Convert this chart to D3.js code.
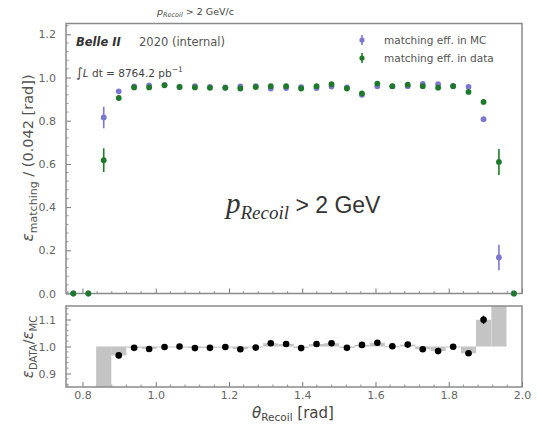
<!DOCTYPE html>
<html><head><meta charset="utf-8">
<script src="https://cdn.jsdelivr.net/npm/d3@7"></script>
<style>
html,body{margin:0;padding:0;background:#fff;}
svg text{font-family:"DejaVu Sans",sans-serif;}
</style></head>
<body>
<svg id="c" width="537" height="426"></svg>
<script>
// ---- data ----
const binCenters = [0.775,0.816,0.858,0.899,0.941,0.982,1.024,1.065,1.107,1.148,1.190,1.231,1.273,1.314,1.356,1.397,1.439,1.480,1.522,1.563,1.605,1.646,1.688,1.729,1.771,1.812,1.854,1.895,1.937,1.978];
const binHalfWidth = 0.0207;
const effData = [0,0,0.617,0.905,0.954,0.954,0.964,0.956,0.954,0.952,0.952,0.949,0.956,0.960,0.960,0.949,0.960,0.969,0.949,0.926,0.972,0.960,0.967,0.960,0.953,0.960,0.933,0.887,0.609,0];
const errData = [0,0,0.055,0.010,0.005,0.005,0.005,0.005,0.005,0.005,0.005,0.005,0.005,0.005,0.005,0.005,0.005,0.005,0.005,0.005,0.005,0.005,0.005,0.005,0.005,0.005,0.006,0.008,0.060,0];
const effMC = [0,0,0.815,0.936,0.959,0.963,0.966,0.956,0.960,0.957,0.954,0.959,0.960,0.949,0.951,0.955,0.951,0.958,0.954,0.920,0.959,0.959,0.960,0.970,0.969,0.961,0.957,0.807,0.167,0];
const errMC = [0,0,0.050,0.010,0.004,0.004,0.004,0.004,0.004,0.004,0.004,0.004,0.004,0.004,0.004,0.004,0.004,0.004,0.004,0.004,0.004,0.004,0.004,0.004,0.004,0.004,0.010,0.006,0.059,0];
const ratio = [null,null,0.757,0.967,0.995,0.991,0.998,1.000,0.994,0.995,0.998,0.990,0.996,1.012,1.009,0.994,1.009,1.012,0.995,1.006,1.014,1.001,1.007,0.990,0.983,0.999,0.975,1.099,3.600,null];
const errRatio = [0,0,0.08,0.010,0.005,0.005,0.005,0.005,0.005,0.005,0.005,0.005,0.005,0.005,0.005,0.005,0.005,0.005,0.005,0.005,0.005,0.005,0.005,0.005,0.005,0.005,0.008,0.015,1.0,0];
const xTicks = [0.8,1.0,1.2,1.4,1.6,1.8,2.0];
const yTicksTop = [0.0,0.2,0.4,0.6,0.8,1.0,1.2];
const yTicksBot = [0.9,1.0,1.1];
const legendLabels = ["matching eff. in MC","matching eff. in data"];

// ---- layout ----
const svg = d3.select("#c");
const L = 66, R = 522;
const topP = {t:23.5, b:293.5};
const botP = {t:306, b:387};
const spine = "#8a8a8a", tickCol = "#777", labCol = "#666";
const cMC = "#7d78cf", cData = "#1e7a2a";

const x = d3.scaleLinear().domain([0.755, 2.0]).range([L, R]);
const yT = d3.scaleLinear().domain([0, 1.25]).range([topP.b, topP.t]);
const yB = d3.scaleLinear().domain([0.85, 1.15]).range([botP.b, botP.t]);

const defs = svg.append("defs");
defs.append("clipPath").attr("id","clipB").append("rect")
  .attr("x",L).attr("y",botP.t).attr("width",R-L).attr("height",botP.b-botP.t);
defs.append("clipPath").attr("id","clipT").append("rect")
  .attr("x",L).attr("y",topP.t-5).attr("width",R-L).attr("height",topP.b-topP.t+10);

function styleAxis(g){
  g.selectAll(".domain").remove();
  g.selectAll(".tick line").attr("stroke",tickCol).attr("stroke-width",1);
  g.selectAll(".tick text").attr("fill",labCol).attr("font-size","11px").attr("font-family","DejaVu Sans");
}
function minorTicks(g, scale, vals, orient, len){
  vals.forEach(v=>{
    if(orient==="bottom"){
      g.append("line").attr("x1",scale(v)).attr("x2",scale(v)).attr("y1",0).attr("y2",-len)
        .attr("stroke",tickCol).attr("stroke-width",0.8);
    } else {
      g.append("line").attr("y1",scale(v)).attr("y2",scale(v)).attr("x1",0).attr("x2",len)
        .attr("stroke",tickCol).attr("stroke-width",0.8);
    }
  });
}
const xMinor = d3.range(0.76, 2.0, 0.04).filter(v=>!xTicks.some(t=>Math.abs(t-v)<1e-6));

// ---- top panel axes ----
const gxT = svg.append("g").attr("transform",`translate(0,${topP.b})`)
  .call(d3.axisBottom(x).tickValues(xTicks).tickSize(-5).tickFormat(""));
styleAxis(gxT); minorTicks(gxT, x, xMinor, "bottom", 2.5);
const gyT = svg.append("g").attr("transform",`translate(${L},0)`)
  .call(d3.axisLeft(yT).tickValues(yTicksTop).tickSize(-5).tickPadding(10).tickFormat(d3.format(".1f")));
styleAxis(gyT);
minorTicks(gyT, yT, d3.range(0.04,1.25,0.04).filter(v=>Math.abs(v/0.2-Math.round(v/0.2))>1e-3), "left", 2.5);

svg.append("rect").attr("x",L).attr("y",topP.t).attr("width",R-L).attr("height",topP.b-topP.t)
  .attr("fill","none").attr("stroke",spine).attr("stroke-width",1.5);

// ---- top panel data ----
const gT = svg.append("g").attr("clip-path","url(#clipT)");
function errPoints(g, vals, errs, color, r){
  binCenters.forEach((c,i)=>{
    const v = vals[i], e = errs[i];
    if(e>0.006){
      g.append("line").attr("x1",x(c)).attr("x2",x(c)).attr("y1",yT(v-e)).attr("y2",yT(v+e))
        .attr("stroke",color).attr("stroke-width",1.6);
    }
    g.append("circle").attr("cx",x(c)).attr("cy",yT(v)).attr("r",r).attr("fill",color);
  });
}
errPoints(gT, effMC, errMC, cMC, 2.9);
errPoints(gT, effData, errData, cData, 2.9);

// ---- legend ----
const legY = [40, 58];
[cMC, cData].forEach((col,i)=>{
  svg.append("line").attr("x1",362).attr("x2",362).attr("y1",legY[i]-5).attr("y2",legY[i]+5)
    .attr("stroke",col).attr("stroke-width",1.6);
  svg.append("circle").attr("cx",362).attr("cy",legY[i]).attr("r",2.6).attr("fill",col);
  svg.append("text").attr("x",384).attr("y",legY[i]+4).attr("font-size","10.5px")
    .attr("fill","#555").text(legendLabels[i]);
});

// ---- annotations ----
svg.append("text").attr("x",76).attr("y",46).attr("font-size","11.5px").attr("font-weight","bold")
  .attr("font-style","italic").attr("fill","#333").text("Belle II");
svg.append("text").attr("x",139).attr("y",46).attr("font-size","11.5px").attr("fill","#555").text("2020 (internal)");
const lum = svg.append("text").attr("x",76).attr("y",77).attr("font-size","10.5px").attr("fill","#444");
lum.append("tspan").attr("font-size","13px").text("∫");
lum.append("tspan").attr("font-style","italic").text("L");
lum.append("tspan").text(" dt = 8764.2 pb");
lum.append("tspan").attr("dy",-5).attr("font-size","7.5px").text("−1");

// title
const tt = svg.append("text").attr("x",157).attr("y",15).attr("font-size","9.5px").attr("fill","#444");
tt.append("tspan").attr("font-style","italic").text("p");
tt.append("tspan").attr("dy",2).attr("font-size","6.5px").attr("font-style","italic").text("Recoil");
tt.append("tspan").attr("dy",-2).text(" > 2 GeV/c");

// big annotation
const big = svg.append("text").attr("x",226).attr("y",213).attr("fill","#333");
big.append("tspan").attr("font-family","Liberation Serif").attr("font-style","italic").attr("font-size","29px").text("p");
big.append("tspan").attr("font-family","Liberation Serif").attr("font-style","italic").attr("font-size","19px").attr("dy",6).text("Recoil");
big.append("tspan").attr("font-family","Liberation Sans").attr("font-size","23px").attr("dy",-6).text(" > 2 GeV");

// y label top
const yl = svg.append("text").attr("transform","translate(33,158) rotate(-90)")
  .attr("text-anchor","middle").attr("font-size","14.5px").attr("fill","#555");
yl.append("tspan").attr("font-style","italic").attr("font-size","15.5px").text("ε");
yl.append("tspan").attr("dy",4).attr("font-size","11px").text("matching");
yl.append("tspan").attr("dy",-4).text(" / (0.042 [rad])");

// ---- bottom panel ----
const gxB = svg.append("g").attr("transform",`translate(0,${botP.b})`)
  .call(d3.axisBottom(x).tickValues(xTicks).tickSize(-5).tickPadding(4).tickFormat(d3.format(".1f")));
styleAxis(gxB); minorTicks(gxB, x, xMinor, "bottom", 2.5);
const gyB = svg.append("g").attr("transform",`translate(${L},0)`)
  .call(d3.axisLeft(yB).tickValues(yTicksBot).tickSize(-5).tickPadding(10).tickFormat(d3.format(".1f")));
styleAxis(gyB);
minorTicks(gyB, yB, [0.86,0.88,0.92,0.94,0.96,0.98,1.02,1.04,1.06,1.08,1.12,1.14], "left", 2.5);

const gB = svg.append("g").attr("clip-path","url(#clipB)");
binCenters.forEach((c,i)=>{
  const r = ratio[i];
  if(r===null) return;
  const y0 = yB(1.0), y1 = yB(r);
  gB.append("rect").attr("x",x(c-binHalfWidth)).attr("width",x(c+binHalfWidth)-x(c-binHalfWidth))
    .attr("y",Math.min(y0,y1)).attr("height",Math.max(1,Math.abs(y1-y0))).attr("fill","#c4c4c4");
});
binCenters.forEach((c,i)=>{
  const r = ratio[i];
  if(r===null) return;
  const e = errRatio[i];
  if(e>0.006){
    gB.append("line").attr("x1",x(c)).attr("x2",x(c)).attr("y1",yB(r-e)).attr("y2",yB(r+e))
      .attr("stroke","#000").attr("stroke-width",1.6);
  }
  gB.append("circle").attr("cx",x(c)).attr("cy",yB(r)).attr("r",3.3).attr("fill","#000");
});
svg.append("rect").attr("x",L).attr("y",botP.t).attr("width",R-L).attr("height",botP.b-botP.t)
  .attr("fill","none").attr("stroke",spine).attr("stroke-width",1.5);

// y label bottom
const yl2 = svg.append("text").attr("transform","translate(33,347) rotate(-90)")
  .attr("text-anchor","middle").attr("font-size","14px").attr("fill","#555");
yl2.append("tspan").attr("font-style","italic").attr("font-size","15px").text("ε");
yl2.append("tspan").attr("dy",4).attr("font-size","10px").text("DATA");
yl2.append("tspan").attr("dy",-4).text("/");
yl2.append("tspan").attr("font-style","italic").attr("font-size","15px").text("ε");
yl2.append("tspan").attr("dy",4).attr("font-size","10px").text("MC");

// x label
const xl = svg.append("text").attr("x",293).attr("y",418).attr("text-anchor","middle")
  .attr("font-size","15px").attr("fill","#444");
xl.append("tspan").attr("font-style","italic").text("θ");
xl.append("tspan").attr("dy",3).attr("font-size","10.5px").text("Recoil");
xl.append("tspan").attr("dy",-3).text(" [rad]");
</script>
</body></html>
